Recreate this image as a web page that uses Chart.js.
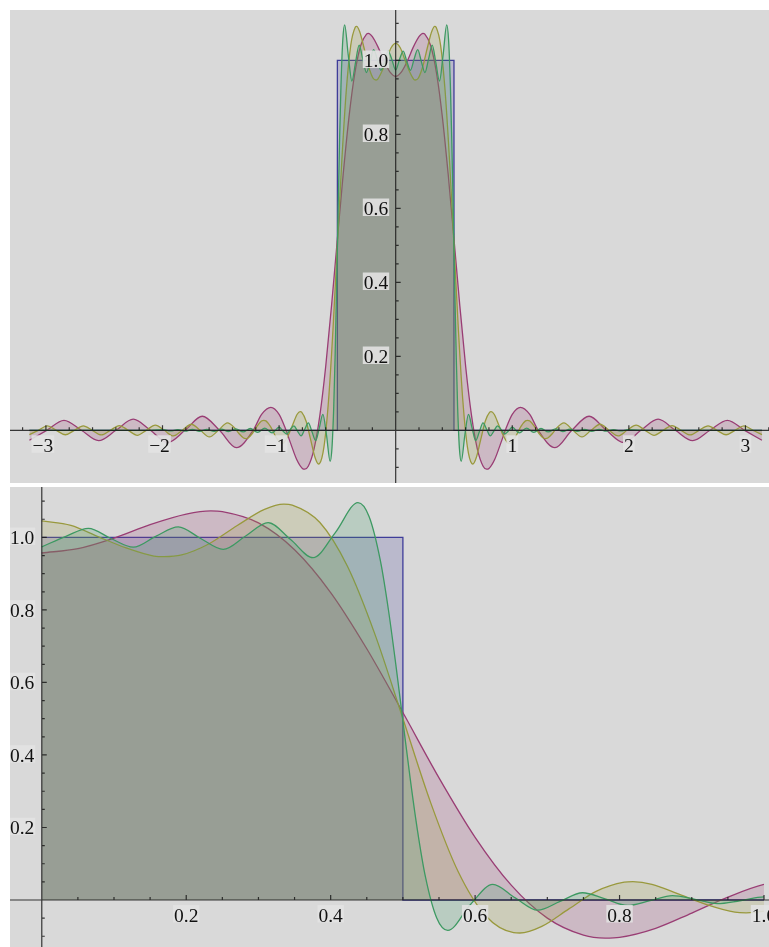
<!DOCTYPE html>
<html>
<head>
<meta charset="utf-8">
<title>Partial Fourier sums of a rectangular pulse</title>
<script src="https://cdn.jsdelivr.net/npm/chart.js@4/dist/chart.umd.min.js"></script>
<style>
  html, body { margin: 0; padding: 0; background: #ffffff; }
  body { width: 769px; height: 947px; position: relative; overflow: hidden; }
  .panel { position: absolute; background: #d9d9d9; }
  #topPanel { left: 10px; top: 10px; width: 759px; height: 473px; }
  #bottomPanel { left: 10px; top: 487px; width: 759px; height: 460px; }
  canvas { display: block; }
</style>
</head>
<body>
<div class="panel" id="topPanel"><canvas id="topChart" width="759" height="473"></canvas></div>
<div class="panel" id="bottomPanel"><canvas id="bottomChart" width="759" height="460"></canvas></div>
<script>
// ---- data: every curve is even, so only x >= 0 is listed ----

// the rectangular pulse itself (height 1 on |x| < 1/2)
const pulseX = [0, 0.5, 0.5, 3.1416];
const pulseY = [1, 1, 0, 0];

// partial sum with 10 harmonics
const sum10X = [0, 0.05, 0.1, 0.15, 0.2, 0.234, 0.25, 0.3, 0.35, 0.4, 0.45, 0.5, 0.55, 0.6, 0.65, 0.7,
  0.75, 0.78, 0.8, 0.85, 0.9, 0.95, 1.0, 1.07, 1.15, 1.222, 1.366, 1.511, 1.659, 1.807, 1.955, 2.103,
  2.251, 2.399, 2.548, 2.696, 2.845, 2.993, 3.1416];
const sum10Y = [0.957, 0.969, 0.998, 1.035, 1.064, 1.073, 1.071, 1.040, 0.966, 0.848, 0.693, 0.517, 0.337, 0.173, 0.041, -0.050,
  -0.097, -0.105, -0.103, -0.078, -0.036, 0.008, 0.043, 0.062, 0.043, 0, -0.047, 0, 0.038, 0, -0.033, 0,
  0.030, 0, -0.028, 0, 0.027, 0, -0.027];

// partial sum with 20 harmonics
const sum20X = [0, 0.0403, 0.0786, 0.1169, 0.1552, 0.1698, 0.1935, 0.2318, 0.2701, 0.3084, 0.3352, 0.3468,
  0.3851, 0.4234, 0.4617, 0.5, 0.5383, 0.5766, 0.6149, 0.6533, 0.662, 0.6916, 0.7299, 0.7682, 0.8065,
  0.8185, 0.8448, 0.8831, 0.9214, 0.9597, 0.9751, 1.0, 1.0364, 1.0747, 1.113, 1.1307, 1.1513, 1.1896,
  1.2279, 1.2662, 1.286, 1.3046, 1.3429, 1.3812, 1.4195, 1.4427, 1.5204, 1.5981, 1.6755, 1.7529, 1.8302,
  1.9075, 1.9848, 2.062, 2.1393, 2.2165, 2.2937, 2.3708, 2.448, 2.5251, 2.6022, 2.6793, 2.7564, 2.8335,
  2.9106, 2.9876, 3.0646, 3.1416];
const sum20Y = [1.0457, 1.0333, 1.0017, 0.9709, 0.9486, 0.9468, 0.9516, 0.9826, 1.032, 1.0772, 1.0918, 1.0891,
  1.041, 0.9196, 0.7305, 0.5005, 0.2693, 0.078, -0.0442, -0.09, -0.091, -0.0735, -0.0245, 0.0243, 0.0491,
  0.0506, 0.0434, 0.0153, -0.0131, -0.0336, -0.0354, -0.0305, -0.0126, 0.0107, 0.0255, 0.0271, 0.0249, 0.0107,
  -0.0079, -0.0206, -0.0223, -0.0208, -0.0094, 0.0062, 0.0172, 0.0203, 0, -0.018, 0, 0.0164, 0,
  -0.0152, 0, 0.0142, 0, -0.0135, 0, 0.0129, 0, -0.0125, 0, 0.0122, 0, -0.012,
  0, 0.0118, 0, -0.0118];

// partial sum with 50 harmonics
const sum50X = [0, 0.0334, 0.0646, 0.0956, 0.1268, 0.1578, 0.189, 0.22, 0.2512, 0.2823, 0.3134, 0.3445,
  0.3756, 0.4067, 0.4378, 0.4533, 0.4689, 0.4802, 0.4901, 0.5, 0.5099, 0.5198, 0.5311, 0.5467, 0.5622,
  0.5933, 0.6244, 0.6555, 0.6866, 0.7177, 0.7488, 0.78, 0.8111, 0.8422, 0.8733, 0.9044, 0.9355, 0.9666,
  1.0, 1.0599, 1.1221, 1.1843, 1.2465, 1.3087, 1.3709, 1.4331, 1.4953, 1.5576, 1.62, 1.682, 1.744,
  1.806, 1.869, 1.931, 1.993, 2.1, 3.1416];
const sum50Y = [0.974, 1.003, 1.025, 0.997, 0.973, 1.003, 1.029, 0.997, 0.967, 1.004, 1.041, 0.994,
  0.944, 1.014, 1.096, 1.057, 0.935, 0.797, 0.651, 0.494, 0.338, 0.197, 0.065, -0.049, -0.084,
  -0.013, 0.043, 0.006, -0.028, -0.004, 0.020, 0.003, -0.015, -0.002, 0.012, 0.002, -0.010, -0.002,
  0.0085, -0.007, 0.006, -0.0056, 0.0049, -0.0044, 0.004, -0.0036, 0.0033, -0.003, 0.0027, -0.0025, 0.0023,
  -0.0021, 0.0019, -0.0017, 0.0016, 0, 0];

// tick values and their labels
const topXTicks = [-3, -2, -1, 1, 2, 3];
const topXLabels = ['\u22123', '\u22122', '\u22121', '1', '2', '3'];
const topYTicks = [0.2, 0.4, 0.6, 0.8, 1.0];
const topYLabels = ['0.2', '0.4', '0.6', '0.8', '1.0'];
const bottomXTicks = [0.2, 0.4, 0.6, 0.8, 1.0];
const bottomXLabels = ['0.2', '0.4', '0.6', '0.8', '1.0'];
const bottomYTicks = [0.2, 0.4, 0.6, 0.8, 1.0];
const bottomYLabels = ['0.2', '0.4', '0.6', '0.8', '1.0'];

// ---- styling ----
const BLUE = '63,61,153';
const PURPLE = '153,61,116';
const OLIVE = '153,153,61';
const GREEN = '61,153,98';
const AXIS_COLOR = 'rgba(25,25,25,0.85)';
const LABEL_BG = 'rgba(226,226,226,0.9)';
const LABEL_FONT = '19.5px "Liberation Serif", "Times New Roman", serif';

// mirror the x >= 0 half onto x < 0
function evenExtend(xs, ys) {
  const pts = [];
  for (let i = xs.length - 1; i >= 0; i--) if (xs[i] > 0) pts.push({ x: -xs[i], y: ys[i] });
  for (let i = 0; i < xs.length; i++) pts.push({ x: xs[i], y: ys[i] });
  return pts;
}
function halfOnly(xs, ys) {
  return xs.map((x, i) => ({ x: x, y: ys[i] }));
}

function curve(label, pts, rgb, order, smooth) {
  return {
    label: label,
    data: pts,
    borderColor: 'rgb(' + rgb + ')',
    backgroundColor: 'rgba(' + rgb + ',0.2)',
    borderWidth: 1.3,
    fill: 'origin',
    pointRadius: 0,
    order: order,
    tension: 0,
    cubicInterpolationMode: smooth ? 'monotone' : 'default'
  };
}

// Mathematica-style axes: lines through the origin, inward ticks, boxed labels
function originAxes(spec) {
  return {
    id: 'originAxes',
    afterDatasetsDraw(chart) {
      const ctx = chart.ctx;
      const sx = chart.scales.x, sy = chart.scales.y;
      const W = chart.width, H = chart.height;
      const ox = sx.getPixelForValue(0), oy = sy.getPixelForValue(0);
      ctx.save();
      ctx.strokeStyle = AXIS_COLOR;
      ctx.lineWidth = 1.2;
      ctx.beginPath();
      ctx.moveTo(0, oy); ctx.lineTo(W, oy);
      ctx.moveTo(ox, 0); ctx.lineTo(ox, H);
      const xLo = sx.getValueForPixel(0), xHi = sx.getValueForPixel(W);
      for (let i = Math.ceil(xLo / spec.xMinor); i * spec.xMinor <= xHi; i++) {
        const v = i * spec.xMinor;
        if (Math.abs(v) < 1e-9) continue;
        const major = spec.xTicks.some(t => Math.abs(t - v) < 1e-6);
        const p = sx.getPixelForValue(v);
        ctx.moveTo(p, oy); ctx.lineTo(p, oy - (major ? 5 : 3));
      }
      const yLo = sy.getValueForPixel(H), yHi = sy.getValueForPixel(0);
      for (let i = Math.ceil(yLo / spec.yMinor); i * spec.yMinor <= yHi; i++) {
        const v = i * spec.yMinor;
        if (Math.abs(v) < 1e-9) continue;
        const major = spec.yTicks.some(t => Math.abs(t - v) < 1e-6);
        const p = sy.getPixelForValue(v);
        ctx.moveTo(ox, p); ctx.lineTo(ox + (major ? 5 : 3), p);
      }
      ctx.stroke();

      ctx.font = LABEL_FONT;
      ctx.textAlign = 'left';
      ctx.textBaseline = 'alphabetic';
      const boxed = (text, left, base) => {
        const w = ctx.measureText(text).width;
        ctx.fillStyle = LABEL_BG;
        ctx.fillRect(left - 1, base - 16.5, w + 2, 17.5);
        ctx.fillStyle = '#111';
        ctx.fillText(text, left, base);
      };
      spec.xTicks.forEach((t, i) => {
        const text = spec.xLabels[i];
        const w = ctx.measureText(text).width;
        // negative labels sit a little to the left of their tick
        const shift = text.charAt(0) === '\u2212' ? -3 : 0;
        boxed(text, sx.getPixelForValue(t) - w / 2 + shift, oy + 21.5);
      });
      spec.yTicks.forEach((t, i) => {
        const text = spec.yLabels[i];
        const w = ctx.measureText(text).width;
        boxed(text, ox - 7.5 - w, sy.getPixelForValue(t) + 6.7);
      });
      ctx.restore();
    }
  };
}

function baseOptions(xMin, xMax, yMin, yMax, padRight) {
  return {
    responsive: false,
    maintainAspectRatio: false,
    animation: false,
    devicePixelRatio: 1,
    events: [],
    layout: { padding: { left: 0, top: 0, bottom: 0, right: padRight } },
    plugins: { legend: { display: false }, tooltip: { enabled: false } },
    scales: {
      x: { type: 'linear', min: xMin, max: xMax, display: false },
      y: { type: 'linear', min: yMin, max: yMax, display: false }
    }
  };
}

// full period view
new Chart(document.getElementById('topChart'), {
  type: 'line',
  data: {
    datasets: [
      curve('N = 50', evenExtend(sum50X, sum50Y), GREEN, 0, true),
      curve('N = 20', evenExtend(sum20X, sum20Y), OLIVE, 1, true),
      curve('N = 10', evenExtend(sum10X, sum10Y), PURPLE, 2, true),
      curve('pulse', evenExtend(pulseX, pulseY), BLUE, 3, false)
    ]
  },
  options: baseOptions(-3.308, 3.202, -0.1424, 1.136, 0),
  plugins: [originAxes({
    xTicks: topXTicks, xLabels: topXLabels, xMinor: 0.2,
    yTicks: topYTicks, yLabels: topYLabels, yMinor: 0.05
  })]
});

// close-up of the edge of the pulse
new Chart(document.getElementById('bottomChart'), {
  type: 'line',
  data: {
    datasets: [
      curve('N = 50', halfOnly(sum50X, sum50Y), GREEN, 0, true),
      curve('N = 20', halfOnly(sum20X, sum20Y), OLIVE, 1, true),
      curve('N = 10', halfOnly(sum10X, sum10Y), PURPLE, 2, true),
      curve('pulse', halfOnly(pulseX, pulseY), BLUE, 3, false)
    ]
  },
  options: baseOptions(-0.044, 1.0, -0.1296, 1.139, 5),
  plugins: [originAxes({
    xTicks: bottomXTicks, xLabels: bottomXLabels, xMinor: 0.05,
    yTicks: bottomYTicks, yLabels: bottomYLabels, yMinor: 0.05
  })]
});
</script>
</body>
</html>
